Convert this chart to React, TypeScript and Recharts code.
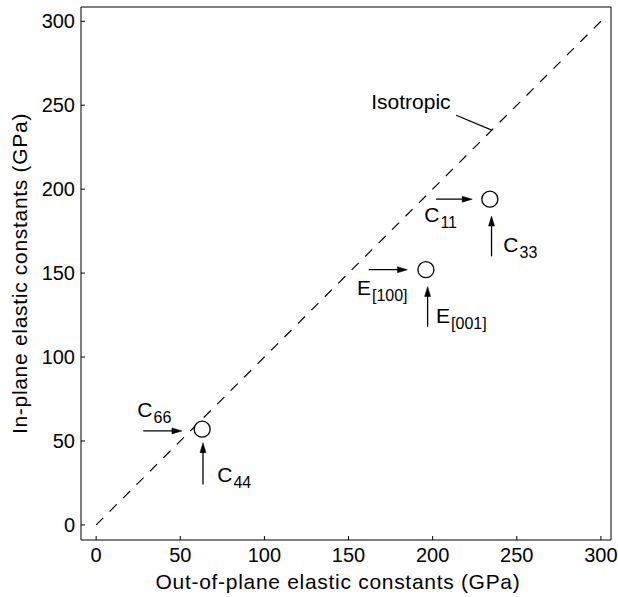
import React from 'react';
import {
  ComposedChart,
  Scatter,
  XAxis,
  YAxis,
  ReferenceLine,
  ReferenceDot,
} from 'recharts';

// measured elastic constants (out-of-plane, in-plane), GPa
const points = [
  { x: 63, y: 57 },
  { x: 196, y: 152 },
  { x: 234, y: 194 },
];

const isoLine = [
  { x: 0, y: 0 },
  { x: 300, y: 300 },
];

const ticks = [0, 50, 100, 150, 200, 250, 300];
const xDomain = [-9, 306];
const yDomain = [-9, 308.5];

// arrows: from -> tip
const arrows = [
  { from: { x: 28, y: 56 }, to: { x: 51, y: 56 } },
  { from: { x: 63.5, y: 24 }, to: { x: 63.5, y: 49 } },
  { from: { x: 202, y: 194 }, to: { x: 223.5, y: 194 } },
  { from: { x: 235, y: 160 }, to: { x: 235, y: 184 } },
  { from: { x: 162, y: 152 }, to: { x: 185, y: 152 } },
  { from: { x: 197, y: 118 }, to: { x: 197, y: 142 } },
];

// labels: main letter + subscript, anchored at baseline-left
const labels = [
  { x: 24.5, y: 64, main: 'C', sub: '66' },
  { x: 72, y: 25.5, main: 'C', sub: '44' },
  { x: 195, y: 180.5, main: 'C', sub: '11' },
  { x: 242, y: 162.5, main: 'C', sub: '33' },
  { x: 155, y: 137, main: 'E', sub: '[100]' },
  { x: 202, y: 120, main: 'E', sub: '[001]' },
  { x: 163.5, y: 247.5, main: 'Isotropic', sub: '' },
];

const isoLeader = [
  { x: 214, y: 244 },
  { x: 235.5, y: 235 },
];

const FONT = '"Liberation Sans", Arial, Helvetica, sans-serif';
const FS = 20;
const LFS = 21;

const Circle = (props: any) => {
  const { cx, cy } = props;
  return <circle cx={cx} cy={cy} r={8} fill="#fff" stroke="#000" strokeWidth={1.3} />;
};

const makeHead = (dx: number, dy: number) => (props: any) => {
  const { cx, cy } = props;
  const len = 10;
  const hw = 3;
  const bx = cx - dx * len;
  const by = cy - dy * len;
  const px = -dy * hw;
  const py = dx * hw;
  return (
    <polygon
      points={`${cx},${cy} ${bx + px},${by + py} ${bx - px},${by - py}`}
      fill="#000"
      stroke="#000"
      strokeWidth={0.5}
    />
  );
};

const makeLabel = (main: string, sub: string) => (props: any) => {
  const { cx, cy } = props;
  return (
    <text x={cx} y={cy} fontFamily={FONT} fontSize={LFS} fill="#000">
      {main}
      {sub && (
        <tspan fontSize={16} dx={1} dy={6}>
          {sub}
        </tspan>
      )}
    </text>
  );
};

const XLabel = ({ viewBox }: any) => {
  const { x, width } = viewBox;
  return (
    <text
      x={x + width / 2 - 8}
      y={589}
      textAnchor="middle"
      fontFamily={FONT}
      fontSize={LFS}
      letterSpacing={0.7}
      fill="#000"
    >
      Out-of-plane elastic constants (GPa)
    </text>
  );
};

const YLabel = ({ viewBox }: any) => {
  const { y, height } = viewBox;
  const cx = 27;
  const cy = y + height / 2;
  return (
    <text
      x={cx}
      y={cy}
      transform={`rotate(-90 ${cx} ${cy})`}
      textAnchor="middle"
      fontFamily={FONT}
      fontSize={LFS}
      letterSpacing={0.7}
      fill="#000"
    >
      In-plane elastic constants (GPa)
    </text>
  );
};

const tickStyle = { fontSize: FS, fill: '#000', fontFamily: FONT };

export default function App() {
  return (
    <div style={{ position: 'absolute', left: 0, top: 0, background: '#fff' }}>
      <ComposedChart width={618} height={597} margin={{ top: 0, right: 0, left: 0, bottom: 0 }}>
        <XAxis
          xAxisId="b"
          type="number"
          dataKey="x"
          orientation="bottom"
          domain={xDomain}
          ticks={ticks}
          allowDataOverflow
          height={57}
          stroke="#000"
          tickSize={-4}
          tickMargin={12}
          tick={tickStyle}
          label={<XLabel />}
        />
        <XAxis
          xAxisId="t"
          type="number"
          orientation="top"
          domain={xDomain}
          ticks={ticks}
          allowDataOverflow
          height={7}
          stroke="#000"
          tickSize={-4}
          tick={false}
        />
        <YAxis
          yAxisId="l"
          type="number"
          dataKey="y"
          orientation="left"
          domain={yDomain}
          ticks={ticks}
          allowDataOverflow
          width={81}
          stroke="#000"
          tickSize={-4}
          tickMargin={10}
          tick={tickStyle}
          label={<YLabel />}
        />
        <YAxis
          yAxisId="r"
          type="number"
          orientation="right"
          domain={yDomain}
          ticks={ticks}
          allowDataOverflow
          width={7}
          stroke="#000"
          tickSize={-4}
          tick={false}
        />
        <ReferenceLine
          xAxisId="b"
          yAxisId="l"
          segment={isoLine}
          stroke="#000"
          strokeWidth={1.2}
          strokeDasharray="10 9"
        />
        <ReferenceLine xAxisId="b" yAxisId="l" segment={isoLeader} stroke="#000" strokeWidth={1.2} />
        {arrows.map((a, i) => (
          <ReferenceLine
            key={`a${i}`}
            xAxisId="b"
            yAxisId="l"
            segment={[a.from, { x: a.to.x - (a.to.x - a.from.x) * 0.1, y: a.to.y - (a.to.y - a.from.y) * 0.1 }]}
            stroke="#000"
            strokeWidth={1.3}
          />
        ))}
        {arrows.map((a, i) => {
          const dx = Math.sign(a.to.x - a.from.x);
          const dy = -Math.sign(a.to.y - a.from.y);
          return (
            <ReferenceDot
              key={`h${i}`}
              xAxisId="b"
              yAxisId="l"
              x={a.to.x}
              y={a.to.y}
              r={0}
              shape={makeHead(dx, dy)}
            />
          );
        })}
        {labels.map((l, i) => (
          <ReferenceDot
            key={`l${i}`}
            xAxisId="b"
            yAxisId="l"
            x={l.x}
            y={l.y}
            r={0}
            shape={makeLabel(l.main, l.sub)}
          />
        ))}
        <Scatter
          xAxisId="b"
          yAxisId="l"
          data={points}
          dataKey="y"
          shape={<Circle />}
          isAnimationActive={false}
        />
      </ComposedChart>
    </div>
  );
}
